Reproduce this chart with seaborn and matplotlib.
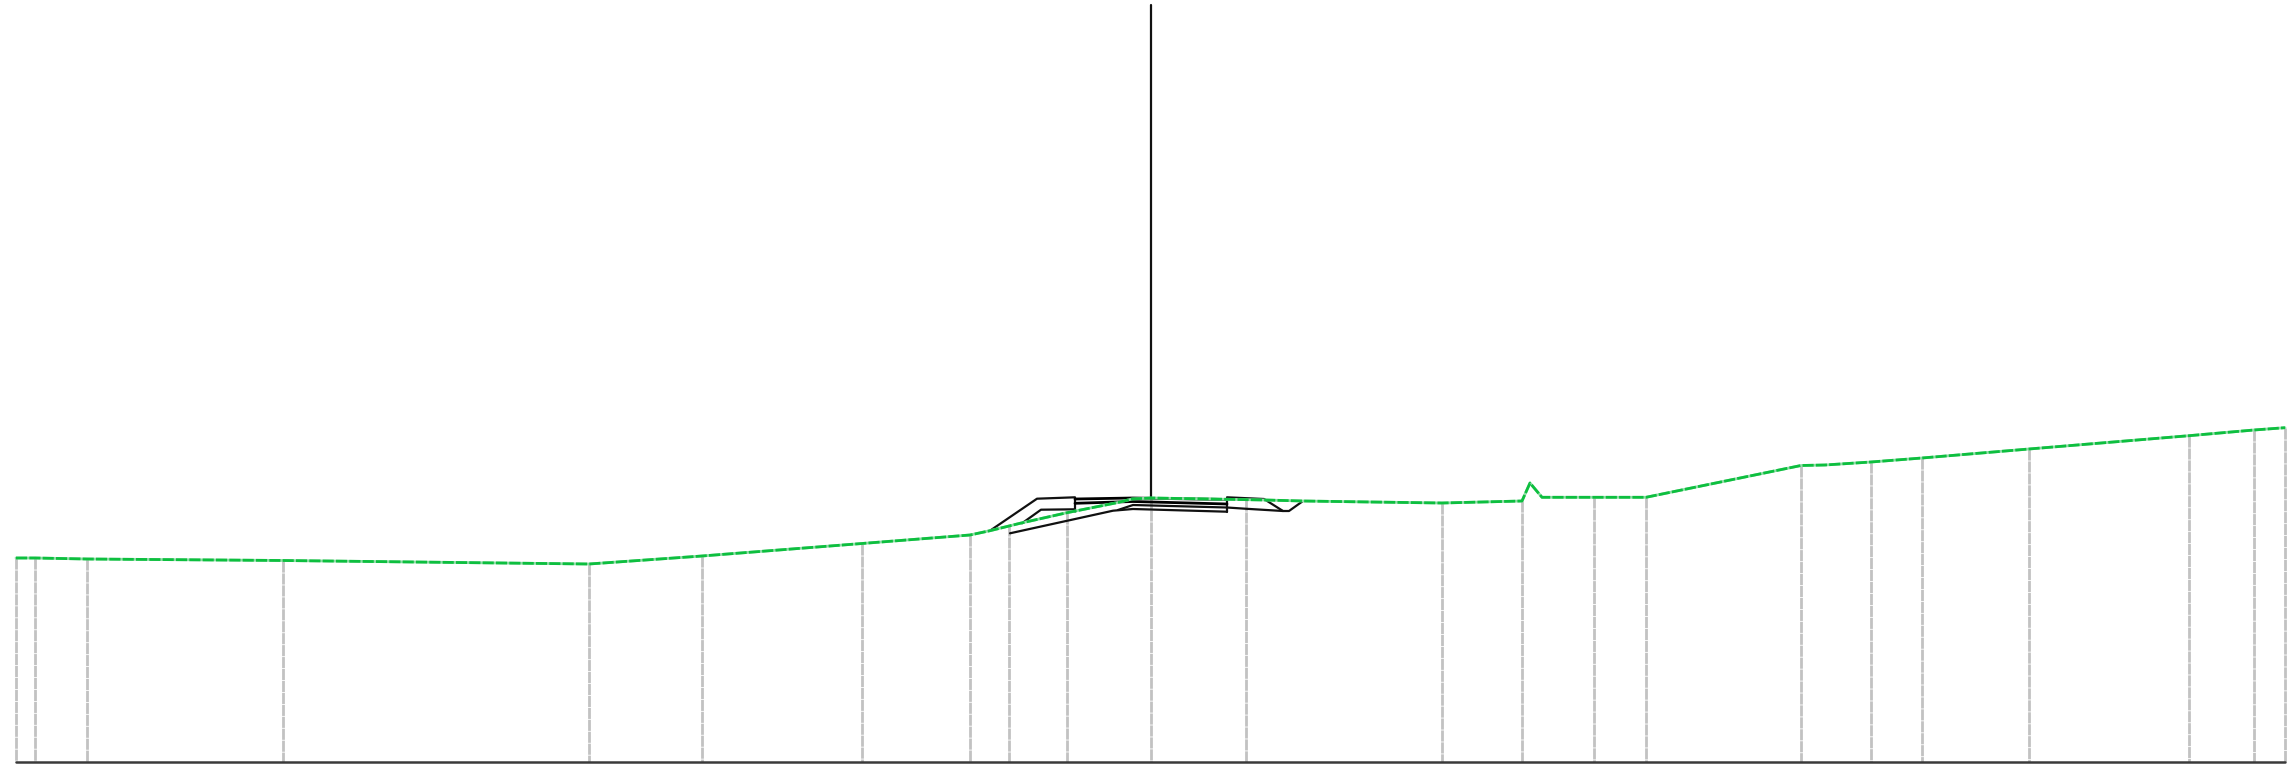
import matplotlib
matplotlib.use('Agg')
import matplotlib.pyplot as plt
import seaborn as sns
import pandas as pd

# profile, y axis runs downwards like the drawing
ground_x = [16, 35, 87, 283, 589, 702, 862, 970, 990, 1020, 1067, 1117, 1132, 1151, 1227, 1265, 1303, 1350,
            1442, 1522, 1530, 1542, 1594, 1646, 1801, 1825, 1871, 1922, 2029, 2189, 2254, 2285]
ground_y = [558, 558, 559, 560.5, 564, 556, 543.5, 535, 530.7, 523.3, 512.7, 502.7, 499, 498, 499.3, 500, 501, 501.7,
            503, 501, 483, 497.3, 497.3, 497.3, 465.5, 465, 462, 458, 449, 435.7, 430, 427.7]

# station posts, drawn from the ground line to the base
post_x = [16, 35, 87, 283, 589, 702, 862, 970, 1009, 1067, 1151, 1246, 1442, 1522, 1594, 1646, 1801, 1871, 1922,
          2029, 2189, 2254, 2285]
post_top = [558, 558, 559, 560.5, 564, 556, 543.5, 535, 525, 512.7, 498, 500, 503, 501, 497.3, 497.3, 465.5, 462,
            458, 449, 435.7, 430, 427.7]
base_y = 762

# structure outlines
outer_x = [990, 1037, 1075, 1075]
outer_y = [530.7, 498.7, 497.3, 511.7]
inner_x = [1022, 1041, 1075]
inner_y = [523.3, 509.7, 509.3]
lower_x = [1010, 1113, 1133, 1227]
lower_y = [533.3, 510.7, 509, 511.7]
spur_x = [1118, 1133, 1227]
spur_y = [510, 505, 507.5]
deck1_x = [1075, 1133, 1227]
deck1_y = [499, 498, 499.5]
deck2_x = [1075, 1133, 1227]
deck2_y = [503.3, 501.5, 504]
end_x = [1227, 1227]
end_y = [497.7, 511.7]
right1_x = [1227, 1264, 1283, 1289, 1303]
right1_y = [497.3, 499, 511, 511, 501]
right2_x = [1227, 1245, 1283]
right2_y = [507.5, 508.7, 511]
mast_x = [1151, 1151]
mast_y = [5, 498]

GREEN = '#0dbf3f'

sns.set_theme(style='white')
fig, ax = plt.subplots(figsize=(22.94, 7.68), dpi=100)
fig.subplots_adjust(left=0, right=1, bottom=0, top=1)

for x, top in zip(post_x, post_top):
    ax.vlines(x, top, base_y, color='#c2c2c2', linewidth=2.0, linestyle=(0, (4, 0.3)))

sns.lineplot(x=[post_x[0], post_x[-1]], y=[base_y, base_y], color='#3a3a3a', linewidth=1.8, ax=ax,
             estimator=None, sort=False)

thin = [(outer_x, outer_y), (inner_x, inner_y), (lower_x, lower_y), (spur_x, spur_y), (end_x, end_y),
        (right1_x, right1_y), (right2_x, right2_y), (mast_x, mast_y)]
for x, y in thin:
    df = pd.DataFrame({'x': x, 'y': y})
    sns.lineplot(data=df, x='x', y='y', color='#111111', linewidth=1.6, ax=ax, estimator=None, sort=False)

for x, y in [(deck1_x, deck1_y), (deck2_x, deck2_y)]:
    df = pd.DataFrame({'x': x, 'y': y})
    sns.lineplot(data=df, x='x', y='y', color='#000000', linewidth=2.0, ax=ax, estimator=None, sort=False)

ground = pd.DataFrame({'x': ground_x, 'y': ground_y})
sns.lineplot(data=ground, x='x', y='y', color='#8fdca6', linewidth=2.0, ax=ax, estimator=None, sort=False)
sns.lineplot(data=ground, x='x', y='y', color=GREEN, linewidth=2.0, ax=ax, estimator=None, sort=False,
             linestyle=(0, (4, 0.8)))

ax.set_xlim(0, 2294)
ax.set_ylim(768, 0)
ax.axis('off')
fig.savefig('out.png', dpi=100)
